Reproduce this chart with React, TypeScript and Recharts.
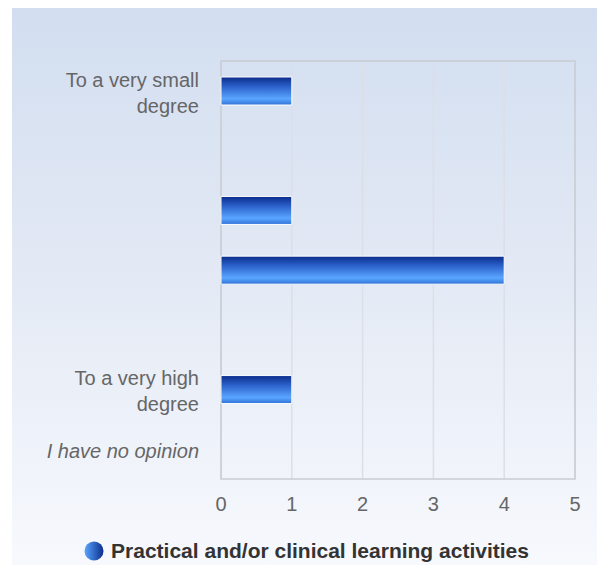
import { Bar, BarChart, CartesianGrid, Legend, ReferenceArea, XAxis, YAxis } from "recharts";

const categories = [
  "To a very small degree",
  "",
  "",
  "",
  "",
  "To a very high degree",
  "I have no opinion",
];
const counts = [1, 0, 1, 4, 0, 1, 0];
const xTicks = [0, 1, 2, 3, 4, 5];
const seriesName = "Practical and/or clinical learning activities";

const GREY = "#666666";
const FONT = "Liberation Sans";

const data = categories.map((c, i) => ({ row: i, label: c, value: counts[i] }));

// Long labels break before their last word, like the original export does.
function CategoryTick(props: any) {
  const { x, y, payload } = props;
  const label = categories[payload.value] ?? "";
  if (!label) return null;
  const italic = label === "I have no opinion";
  const words = label.split(" ");
  const lines = label.length > 18 ? [words.slice(0, -1).join(" "), words[words.length - 1]] : [label];
  const lineH = 26;
  const startY = y - ((lines.length - 1) * lineH) / 2 + 9;
  return (
    <text
      x={x - 14}
      y={startY}
      textAnchor="end"
      fill={GREY}
      fontSize={20}
      fontFamily={FONT}
      fontStyle={italic ? "italic" : "normal"}
    >
      {lines.map((l, i) => (
        <tspan key={i} x={x - 14} dy={i === 0 ? 0 : lineH}>
          {l}
        </tspan>
      ))}
    </text>
  );
}

function LegendContent() {
  return (
    <div
      style={{
        display: "flex",
        justifyContent: "center",
        alignItems: "center",
        fontFamily: FONT,
        fontWeight: "bold",
        fontSize: 21,
        color: "#333",
        height: 24,
        paddingLeft: 26,
      }}
    >
      <svg width={20} height={20} style={{ marginRight: 7 }}>
        <defs>
          <linearGradient id="legendDot" x1="0" y1="0" x2="1" y2="0">
            <stop offset="0%" stopColor="#5aa5ff" />
            <stop offset="100%" stopColor="#0b2e8c" />
          </linearGradient>
        </defs>
        <circle cx={10} cy={10} r={9.5} fill="url(#legendDot)" />
      </svg>
      {seriesName}
    </div>
  );
}

export default function App() {
  return (
    <div
      style={{
        position: "fixed",
        left: 12,
        top: 8,
        width: 585,
        height: 557,
        background: "linear-gradient(to bottom, #d2def0 0%, #e4eaf5 50%, #f7f9fd 100%)",
      }}
    >
      <BarChart
        width={585}
        height={557}
        data={data}
        layout="vertical"
        margin={{ top: 53, right: 22, bottom: 0, left: 0 }}
        barSize={28}
      >
        <defs>
          <linearGradient id="barFill" x1="0" y1="0" x2="0" y2="1">
            <stop offset="0%" stopColor="#0a2c8a" />
            <stop offset="35%" stopColor="#2c62cc" />
            <stop offset="78%" stopColor="#5aa6ff" />
            <stop offset="100%" stopColor="#2f72d6" />
          </linearGradient>
        </defs>
        <CartesianGrid horizontal={false} stroke="#dcdfe6" strokeWidth={1.5} />
        <ReferenceArea x1={0} x2={5} fill="none" stroke="#c8ccd4" strokeWidth={1.5} ifOverflow="visible" />
        <XAxis
          type="number"
          domain={[0, 5]}
          ticks={xTicks}
          height={62}
          tickMargin={12}
          axisLine={false}
          tickLine={false}
          tick={{ fill: GREY, fontSize: 20, fontFamily: FONT }}
        />
        <YAxis
          type="category"
          dataKey="row"
          width={209}
          axisLine={false}
          tickLine={false}
          interval={0}
          tick={<CategoryTick />}
        />
        <Legend
          verticalAlign="bottom"
          height={24}
          content={<LegendContent />}
          wrapperStyle={{ bottom: 2 }}
        />
        <Bar
          dataKey="value"
          name={seriesName}
          fill="url(#barFill)"
          stroke="#ffffff"
          strokeWidth={1}
          isAnimationActive={false}
        />
      </BarChart>
    </div>
  );
}
